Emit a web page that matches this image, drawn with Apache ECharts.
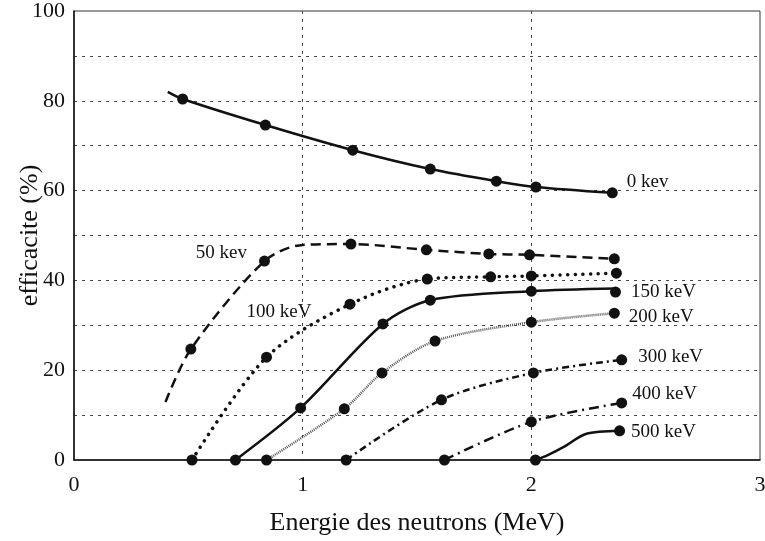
<!DOCTYPE html>
<html>
<head>
<meta charset="utf-8">
<script src="https://cdn.jsdelivr.net/npm/echarts@6/dist/echarts.min.js"></script>
<style>
  html, body { margin: 0; padding: 0; background: #fff; }
  #chart { width: 765px; height: 541px; }
</style>
</head>
<body>
<div id="chart"></div>
<script>
// Efficiency (%) versus neutron energy (MeV) for several detection thresholds.
const curveNames = ['0 kev', '50 kev', '100 keV', '150 keV', '200 keV', '300 keV', '400 keV', '500 keV'];

// measured points (drawn with a marker)
const kev0Dots   = [[0.475, 80.4], [0.837, 74.6], [1.219, 69.0], [1.558, 64.8], [1.847, 62.1], [2.02, 60.8], [2.354, 59.5]];
const kev50Dots  = [[0.511, 24.7], [0.833, 44.3], [1.211, 48.1], [1.541, 46.8], [1.814, 45.9], [1.992, 45.7], [2.363, 44.8]];
const kev100Dots = [[0.516, 0], [0.842, 22.9], [1.207, 34.7], [1.545, 40.3], [1.822, 40.8], [2.0, 41.0], [2.372, 41.6]];
const kev150Dots = [[0.706, 0], [0.991, 11.6], [1.351, 30.3], [1.558, 35.6], [2.0, 37.6], [2.368, 37.4]];
const kev200Dots = [[0.842, 0], [1.182, 11.4], [1.347, 19.4], [1.579, 26.5], [2.0, 30.7], [2.363, 32.7]];
const kev300Dots = [[1.19, 0], [1.607, 13.4], [2.009, 19.4], [2.395, 22.3]];
const kev400Dots = [[1.62, 0], [2.0, 8.5], [2.395, 12.7]];
const kev500Dots = [[2.018, 0], [2.386, 6.5]];

// extra points of the fitted curves (no marker)
const kev0Extra   = [[0.41, 82.0]];
const kev50Extra  = [[0.40, 12.9], [1.0, 47.9]];
const kev150Extra = [[2.368, 38.2]];
const kev500Extra = [[2.072, 1.1], [2.148, 3.1], [2.238, 5.8]];

const xTicks = [0, 1, 2, 3];
const yLabelStep = 20;

const dotSets   = [kev0Dots, kev50Dots, kev100Dots, kev150Dots, kev200Dots, kev300Dots, kev400Dots, kev500Dots];
const extraSets = [kev0Extra, kev50Extra, [], kev150Extra, [], [], [], kev500Extra];

const FONT = '"Liberation Serif", "DejaVu Serif", serif';
const INK = '#111';

// per-curve line look
const lineStyles = [
  { type: 'solid', width: 2.5, color: INK },
  { type: [10, 6], width: 2.5, color: INK },
  { type: [0.1, 7.5], width: 3.5, color: INK, cap: 'round' },
  { type: 'solid', width: 2.5, color: INK },
  { type: [1, 1], width: 2.5, color: '#555' },
  { type: [7, 4, 2, 4], width: 2.5, color: INK },
  { type: [10, 5, 2, 5], width: 2.5, color: INK },
  { type: 'solid', width: 2.5, color: INK }
];

// where each curve's name sits, relative to one of its markers
const labelSpots = [
  { idx: -1, position: 'right', distance: 9, offset: [0, -11] },
  { idx: 1, position: 'left', distance: 12, offset: [0, -8] },
  { idx: 2, position: 'left', distance: 33, offset: [0, 8] },
  { idx: -1, position: 'right', distance: 10, offset: [0, 0] },
  { idx: -1, position: 'right', distance: 9, offset: [0, 4] },
  { idx: -1, position: 'right', distance: 11, offset: [0, -3] },
  { idx: -1, position: 'right', distance: 5, offset: [0, -9] },
  { idx: -1, position: 'right', distance: 6, offset: [0, 1] }
];

const series = [];
curveNames.forEach((name, i) => {
  const byX = new Map();
  dotSets[i].concat(extraSets[i]).forEach(p => byX.set(p[0], p));
  const path = Array.from(byX.values()).sort((a, b) => a[0] - b[0]);
  series.push({
    type: 'line',
    name: name,
    data: path,
    smooth: 0.3,
    showSymbol: false,
    lineStyle: lineStyles[i],
    silent: true,
    z: 2
  });
  const spot = labelSpots[i];
  const li = spot.idx < 0 ? dotSets[i].length + spot.idx : spot.idx;
  series.push({
    type: 'scatter',
    name: name,
    symbol: 'circle',
    symbolSize: 11,
    itemStyle: { color: INK, opacity: 1 },
    z: 3,
    data: dotSets[i].map((p, k) => k === li ? {
      value: p,
      label: {
        show: true,
        formatter: name,
        position: spot.position,
        distance: spot.distance,
        offset: spot.offset,
        color: INK,
        fontFamily: FONT,
        fontSize: 19
      }
    } : p)
  });
});

const chart = echarts.init(document.getElementById('chart'), null, { renderer: 'canvas' });
chart.setOption({
  animation: false,
  backgroundColor: '#fff',
  grid: {
    left: 74, right: 5, top: 11, bottom: 81,
    containLabel: false,
    outerBoundsMode: 'none',
    show: true, borderColor: '#333', borderWidth: 1, backgroundColor: 'transparent'
  },
  xAxis: {
    type: 'value',
    min: xTicks[0], max: xTicks[xTicks.length - 1], interval: 1,
    name: 'Energie des neutrons (MeV)',
    nameLocation: 'middle',
    nameGap: 50,
    nameMoveOverlap: false,
    nameTextStyle: { fontFamily: FONT, fontSize: 26, color: INK },
    axisLine: { show: true, lineStyle: { color: INK, width: 1.5 } },
    axisTick: { show: false },
    axisLabel: { fontFamily: FONT, fontSize: 22, color: INK, margin: 14 },
    splitLine: {
      show: true, showMinLine: false, showMaxLine: false,
      lineStyle: { type: [3, 5], color: '#444', width: 1 }
    }
  },
  yAxis: {
    type: 'value',
    min: 0, max: 100, interval: 10,
    name: 'efficacite (%)',
    nameLocation: 'middle',
    nameGap: 31,
    nameMoveOverlap: false,
    nameTextStyle: { fontFamily: FONT, fontSize: 26, color: INK },
    axisLine: { show: true, lineStyle: { color: INK, width: 1.5 } },
    axisTick: { show: false },
    axisLabel: {
      fontFamily: FONT, fontSize: 22, color: INK, margin: 9,
      formatter: v => (v % yLabelStep === 0 ? String(v) : '')
    },
    splitLine: {
      show: true, showMinLine: false, showMaxLine: false,
      lineStyle: { type: [3, 5], color: '#444', width: 1 }
    }
  },
  series: series
});
</script>
</body>
</html>
